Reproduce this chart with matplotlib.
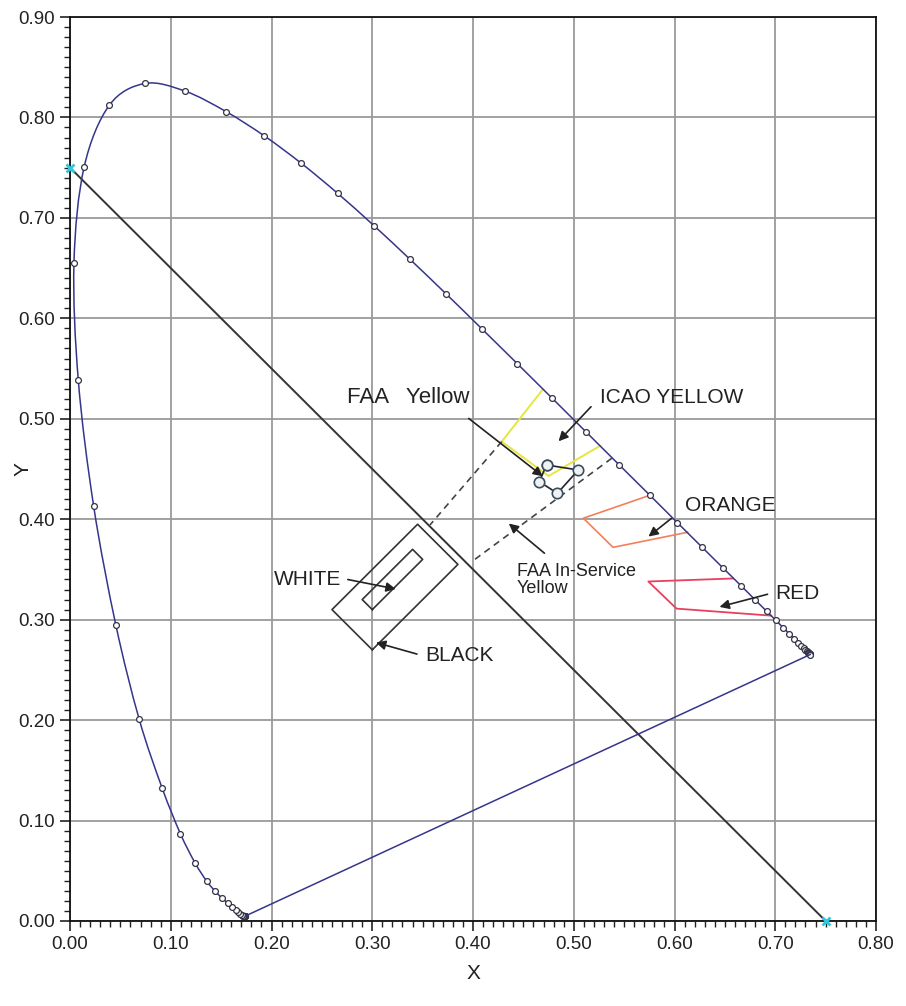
import matplotlib
matplotlib.use("Agg")
import matplotlib.pyplot as plt
import numpy as np
from matplotlib.path import Path
from matplotlib.patches import PathPatch
from matplotlib.ticker import MultipleLocator, FormatStrFormatter

plt.rcParams['font.family'] = ['Liberation Sans', 'DejaVu Sans']

# spectral locus, 380..700 nm every 5 nm (CIE 1931 x, y)
locus_x = [0.1741, 0.1740, 0.1738, 0.1736, 0.1733, 0.1730, 0.1726, 0.1721, 0.1714,
           0.1703, 0.1689, 0.1669, 0.1644, 0.1611, 0.1566, 0.1510, 0.1440, 0.1355,
           0.1241, 0.1096, 0.0913, 0.0687, 0.0454, 0.0235, 0.0082, 0.0039, 0.0139,
           0.0389, 0.0743, 0.1142, 0.1547, 0.1929, 0.2296, 0.2658, 0.3016, 0.3373,
           0.3731, 0.4087, 0.4441, 0.4788, 0.5125, 0.5448, 0.5752, 0.6029, 0.6270,
           0.6482, 0.6658, 0.6801, 0.6915, 0.7006, 0.7079, 0.7140, 0.7190, 0.7230,
           0.7260, 0.7283, 0.7300, 0.7311, 0.7320, 0.7327, 0.7334, 0.7340, 0.7344,
           0.7346, 0.7347]
locus_y = [0.0050, 0.0050, 0.0049, 0.0049, 0.0048, 0.0048, 0.0048, 0.0048, 0.0051,
           0.0058, 0.0069, 0.0086, 0.0109, 0.0138, 0.0177, 0.0227, 0.0297, 0.0399,
           0.0578, 0.0868, 0.1327, 0.2007, 0.2950, 0.4127, 0.5384, 0.6548, 0.7502,
           0.8120, 0.8338, 0.8262, 0.8059, 0.7816, 0.7543, 0.7243, 0.6923, 0.6589,
           0.6245, 0.5896, 0.5547, 0.5202, 0.4866, 0.4544, 0.4242, 0.3965, 0.3725,
           0.3514, 0.3340, 0.3197, 0.3083, 0.2993, 0.2920, 0.2859, 0.2809, 0.2770,
           0.2740, 0.2717, 0.2700, 0.2689, 0.2680, 0.2673, 0.2666, 0.2660, 0.2656,
           0.2654, 0.2653]

diag_x = [0.0, 0.75]
diag_y = [0.75, 0.0]

# colour boxes
black_x = [0.300, 0.260, 0.345, 0.385, 0.300]
black_y = [0.270, 0.310, 0.395, 0.355, 0.270]
white_x = [0.300, 0.290, 0.340, 0.350, 0.300]
white_y = [0.310, 0.320, 0.370, 0.360, 0.310]
icao_yel_x = [0.4695, 0.4285, 0.475, 0.526]
icao_yel_y = [0.5295, 0.4773, 0.443, 0.473]
faa_yel_x = [0.473, 0.5045, 0.4837, 0.4658, 0.473]
faa_yel_y = [0.454, 0.449, 0.4258, 0.4374, 0.454]
orange_x = [0.576, 0.5095, 0.539, 0.613]
orange_y = [0.424, 0.401, 0.372, 0.387]
red_x = [0.658, 0.574, 0.602, 0.696]
red_y = [0.341, 0.338, 0.311, 0.304]
inserv1_x = [0.4285, 0.3573]
inserv1_y = [0.4773, 0.3943]
inserv2_x = [0.5377, 0.3987]
inserv2_y = [0.4607, 0.3577]


def smooth_path(xs, ys):
    # catmull-rom through the points, drawn as cubic bezier pieces
    p = np.column_stack([xs, ys])
    p = np.vstack([p[0], p, p[-1]])
    verts = [p[1]]
    codes = [Path.MOVETO]
    for i in range(1, len(p) - 2):
        c1 = p[i] + (p[i + 1] - p[i - 1]) / 6
        c2 = p[i + 1] - (p[i + 2] - p[i]) / 6
        verts += [c1, c2, p[i + 1]]
        codes += [Path.CURVE4] * 3
    return Path(verts, codes)


fig = plt.figure(figsize=(9.06, 10.06), dpi=100)
ax = fig.add_axes([0.0773, 0.0845, 0.8896, 0.8986])

ax.grid(True, which='major', color='#9a9a9a', lw=1.3)
ax.set_axisbelow(True)

navy = '#35358c'
ax.add_patch(PathPatch(smooth_path(locus_x, locus_y), fc='none', ec=navy, lw=1.1, zorder=3))
ax.plot(locus_x, locus_y, ls='none', marker='o', ms=4.2, mfc='white',
        mec='#333344', mew=0.9, zorder=3)
ax.plot([locus_x[0], locus_x[-1]], [locus_y[0], locus_y[-1]], color=navy, lw=1.1, zorder=3)

ax.plot(diag_x, diag_y, color='#333333', lw=1.4, zorder=2)
ax.plot(diag_x, diag_y, ls='none', marker='x', ms=6, mew=2, color='#30c8d8', zorder=4,
        clip_on=False)

ax.plot(black_x, black_y, color='#333333', lw=1.2)
ax.plot(white_x, white_y, color='#333333', lw=1.2)
ax.plot(icao_yel_x, icao_yel_y, color='#e6e640', lw=1.4)
ax.plot(orange_x, orange_y, color='#f2805a', lw=1.2)
ax.plot(red_x, red_y, color='#e8405e', lw=1.3)
ax.plot(inserv1_x, inserv1_y, color='#444444', lw=1.2, ls=(0, (4, 3)))
ax.plot(inserv2_x, inserv2_y, color='#444444', lw=1.2, ls=(0, (4, 3)))
ax.plot(faa_yel_x, faa_yel_y, color='#222233', lw=1.2, marker='o', ms=7.5,
        mfc='#eef2f4', mec='#3c4e5c', mew=1.2, zorder=5)

arr = dict(arrowstyle='-|>', color='#222222', lw=1.2, mutation_scale=14)
def label(txt, xy, tail, pos, size=15, ha='center'):
    ax.annotate('', xy=xy, xytext=tail, arrowprops=arr, zorder=6)
    ax.text(pos[0], pos[1], txt, fontsize=size, ha=ha, va='center', color='#222222',
            linespacing=1.05)

label('FAA   Yellow', (0.4715, 0.441), (0.3936, 0.502), (0.336, 0.5207), size=16)
label('ICAO YELLOW', (0.483, 0.4756), (0.519, 0.514), (0.526, 0.5207), ha='left')
label('ORANGE', (0.572, 0.381), (0.599, 0.4025), (0.610, 0.414), ha='left')
label('RED', (0.642, 0.312), (0.695, 0.326), (0.700, 0.326), ha='left')
label('WHITE', (0.326, 0.330), (0.273, 0.3405), (0.2697, 0.3395), ha='right')
label('BLACK', (0.301, 0.278), (0.347, 0.265), (0.3524, 0.2648), ha='left')
label('FAA In-Service\nYellow', (0.4334, 0.3975), (0.473, 0.3644), (0.4434, 0.3395),
      size=13, ha='left')

ax.set_xlim(0, 0.8)
ax.set_ylim(0, 0.9)
ax.xaxis.set_major_locator(MultipleLocator(0.1))
ax.yaxis.set_major_locator(MultipleLocator(0.1))
ax.xaxis.set_minor_locator(MultipleLocator(0.01))
ax.yaxis.set_minor_locator(MultipleLocator(0.01))
ax.xaxis.set_major_formatter(FormatStrFormatter('%.2f'))
ax.yaxis.set_major_formatter(FormatStrFormatter('%.2f'))
ax.tick_params(which='major', direction='out', length=7, width=1.2, labelsize=13.5,
               colors='#222222', pad=4)
ax.tick_params(which='minor', direction='out', length=4, width=1.0, colors='#222222')
for s in ax.spines.values():
    s.set_linewidth(1.3)
    s.set_color('#111111')

ax.set_xlabel('X', fontsize=15, color='#222222', labelpad=8)
ax.set_ylabel('Y', fontsize=15, color='#222222')
ax.yaxis.set_label_coords(-0.047, 0.5)

fig.savefig('out.png', dpi=100)
